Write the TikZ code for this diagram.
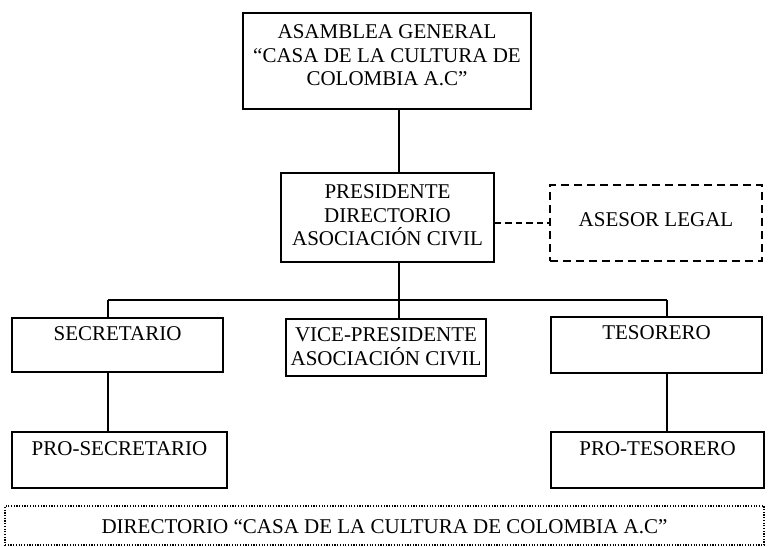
\documentclass[tikz,border=0pt]{standalone}
\usepackage{fontspec}
\setmainfont{Liberation Serif}
\usepackage{tikz}
\tikzset{caja/.style={draw,line width=1.8pt,align=center,inner sep=0pt,text height=10pt,font=\fontsize{21}{23.5}\selectfont},
  cajaguion/.style={caja,line width=1.4pt,dash pattern=on 8pt off 5pt},
  cajapunto/.style={caja,line width=1.2pt,dash pattern=on 1.2pt off 1.5pt},
  linea/.style={line width=1.4pt}}

\begin{document}
\begin{tikzpicture}[x=1pt,y=-1pt]

% Define frame
\useasboundingbox (0,0) rectangle (768,546);

\node[caja,minimum width=288pt,minimum height=96pt,text height=59pt,text depth=10pt] (asamblea) at (387,61) {ASAMBLEA GENERAL\\``CASA DE LA CULTURA DE\\COLOMBIA A.C''};
\node[caja,minimum width=213pt,minimum height=89pt,text height=66.6pt,text depth=10pt] (presidente) at (387.5,217.5) {PRESIDENTE\\DIRECTORIO\\ASOCIACIÓN CIVIL};
\node[cajaguion,minimum width=212pt,minimum height=76pt,text depth=2.4pt] (asesor) at (656,223) {ASESOR LEGAL};

\node[caja,minimum width=211pt,minimum height=54pt,text depth=18.4pt] (secretario) at (117.5,345) {SECRETARIO};
\node[caja,minimum width=200pt,minimum height=57pt,text height=45.6pt,text depth=10pt] (vice) at (386,347.5) {VICE-PRESIDENTE\\ASOCIACIÓN CIVIL};
\node[caja,minimum width=211pt,minimum height=56pt,text depth=20.4pt] (tesorero) at (656.5,345) {TESORERO};

\node[caja,minimum width=215pt,minimum height=56pt,text depth=18.4pt] (prosecretario) at (119.5,460) {PRO-SECRETARIO};
\node[caja,minimum width=213pt,minimum height=56pt,text depth=18.4pt] (protesorero) at (657.5,460) {PRO-TESORERO};

\node[cajapunto,minimum width=759pt,minimum height=39pt,text height=18pt,text depth=1.4pt] (directorio) at (384.5,525.5) {DIRECTORIO ``CASA DE LA CULTURA DE COLOMBIA A.C''};

% Connectors
\coordinate (bus) at (399,300);
\coordinate (busL) at (108,300);
\coordinate (busR) at (667,300);

\draw[linea] (asamblea.south -| bus) -- (presidente.north -| bus);
\draw[linea] (presidente.south -| bus) -- (bus);
\draw[linea] (busL) -- (busR);
\draw[linea] (busL) -- (busL |- secretario.north);
\draw[linea] (bus) -- (bus |- vice.north);
\draw[linea] (busR) -- (busR |- tesorero.north);
\draw[linea] (secretario.south -| busL) -- (prosecretario.north -| busL);
\draw[linea] (tesorero.south -| busR) -- (protesorero.north -| busR);
\draw[linea,dash pattern=on 6.5pt off 4pt] (presidente.east |- asesor.west) -- (asesor.west);

\end{tikzpicture}
\end{document}
